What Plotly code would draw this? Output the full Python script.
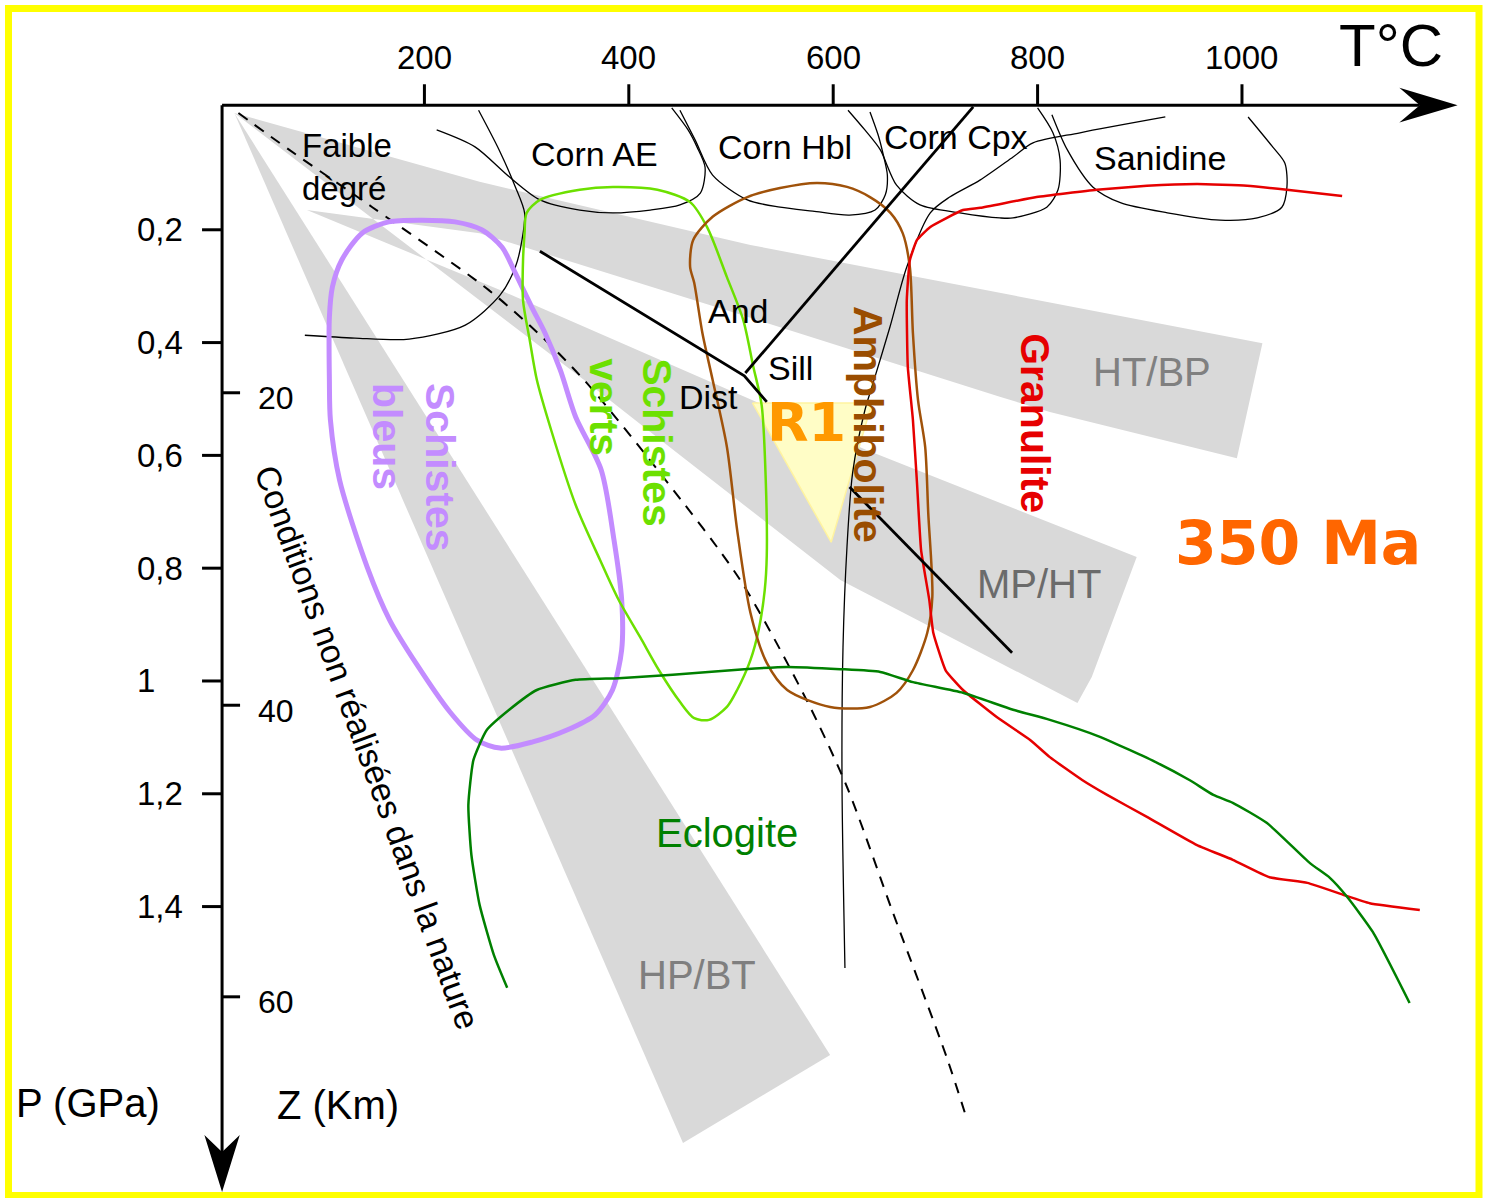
import plotly.graph_objects as go

# ---------------- data (T in °C, P in GPa) ----------------
T_TICKS = [200, 400, 600, 800, 1000]
T_TICK_LABELS = ["200", "400", "600", "800", "1000"]
P_TICKS = [0.2, 0.4, 0.6, 0.8, 1.0, 1.2, 1.4]
P_TICK_LABELS = ["0,2", "0,4", "0,6", "0,8", "1", "1,2", "1,4"]
Z_TICKS = ["20", "40", "60"]            # depth, km
Z_TICK_P = [0.489, 1.043, 1.560]        # pressure equivalent of each depth tick

# grey fields: HT/BP and MP/HT (joined near the origin), HP/BT
BAND_AB_T = [14, 254, 519, 763, 1020, 995, 812, 763, 519, 254, 85, 274, 632, 897, 853, 839, 607, 422, 356, 14]
BAND_AB_P = [-0.007, 0.115, 0.227, 0.312, 0.401, 0.605, 0.523, 0.496, 0.356, 0.206, 0.165,
             0.307, 0.590, 0.780, 0.993, 1.039, 0.821, 0.560, 0.466, -0.007]
BAND_C_T = [14, 453, 597, 14]
BAND_C_P = [-0.007, 1.819, 1.663, -0.007]

# R1 triangle
R1_T = [521, 638, 598, 521]
R1_P = [0.507, 0.507, 0.754, 0.507]

# geotherm limit (dashed)
GEO_T = [18, 67.5, 149, 263, 318, 359, 433.5, 509, 574, 613.5, 658.5, 711, 731]
GEO_P = [-0.007, 0.058, 0.160, 0.307, 0.395, 0.472, 0.638, 0.821, 1.034, 1.188, 1.411, 1.667, 1.778]

# thin black boundaries
FAIBLE_T = [253, 273, 289, 298, 295.5, 289, 274, 240, 185, 132, 83]
FAIBLE_P = [-0.012, 0.058, 0.124, 0.170, 0.218, 0.266, 0.316, 0.369, 0.394, 0.392, 0.387]
CORN_AE_T = [212, 249.5, 283, 313, 352, 384.5, 421, 450, 470, 474.6, 466.7, 458, 442]
CORN_AE_P = [0.023, 0.053, 0.106, 0.147, 0.165, 0.170, 0.165, 0.156, 0.135, 0.089, 0.053, 0.023, -0.016]
CORN_HBL_T = [450, 465, 482, 516, 548, 580, 616, 641, 651, 653, 649, 644, 636]
CORN_HBL_P = [-0.012, 0.041, 0.103, 0.147, 0.160, 0.167, 0.174, 0.165, 0.138, 0.103, 0.067, 0.032, -0.009]
CORN_CPX_T = [614.5, 631, 646, 662, 685, 724, 763, 776, 809, 820, 822, 815, 800]
CORN_CPX_P = [-0.012, 0.023, 0.058, 0.121, 0.156, 0.170, 0.179, 0.179, 0.160, 0.129, 0.076, 0.028, -0.016]
SANIDINE_T = [814, 829, 854, 881, 927, 978.5, 1015, 1039, 1044, 1042, 1030, 1006]
SANIDINE_P = [-0.004, 0.058, 0.124, 0.152, 0.170, 0.183, 0.179, 0.160, 0.124, 0.082, 0.053, 0.0]
LONG_T = [925, 841.5, 795.5, 776, 743.6, 714, 695, 672, 655.6, 639, 631, 619, 613.5, 609.6, 608.6, 611.5]
LONG_P = [0.0, 0.028, 0.046, 0.071, 0.112, 0.142, 0.170, 0.266, 0.372, 0.472, 0.520, 0.631, 0.762, 0.940, 1.176, 1.509]

# aluminosilicate triple point lines
KY_AND_T = [313, 513, 535]
KY_AND_P = [0.238, 0.459, 0.505]
AND_SIL_T = [514, 737]
AND_SIL_P = [0.454, -0.018]
KY_SIL_T = [616, 775]
KY_SIL_P = [0.656, 0.950]

# facies fields
BLEUS_T = [165, 198, 230, 256, 276, 289, 305, 318, 333, 348, 373, 385.5, 393, 393, 384, 367, 339.5, 306, 274,
           251.5, 225, 193, 166, 144, 117, 108, 107, 107, 110, 119, 139, 165]
BLEUS_P = [0.186, 0.183, 0.186, 0.200, 0.231, 0.277, 0.337, 0.383, 0.449, 0.532, 0.626, 0.750, 0.856, 0.945,
           1.016, 1.060, 1.087, 1.108, 1.119, 1.105, 1.055, 0.972, 0.892, 0.798, 0.644, 0.537, 0.466, 0.355,
           0.301, 0.254, 0.206, 0.186]
VERTS_T = [300, 313, 352, 384.5, 428, 460, 476.5, 496, 512, 521.5, 530, 534, 535, 533, 527, 519, 506, 496,
           478.5, 464, 450, 429.5, 411, 390, 372, 348, 324, 310, 303, 296.5, 296.5, 298, 300]
VERTS_P = [0.170, 0.147, 0.129, 0.124, 0.129, 0.151, 0.195, 0.284, 0.360, 0.440, 0.511, 0.644, 0.777, 0.839,
           0.910, 0.963, 1.016, 1.046, 1.069, 1.066, 1.037, 0.981, 0.922, 0.856, 0.786, 0.688, 0.555, 0.466,
           0.395, 0.325, 0.254, 0.206, 0.170]
AMPHI_T = [460, 463, 482, 516, 548, 584, 613.5, 636, 656, 668, 675, 678, 683, 690, 693, 697, 692, 678, 662,
           636, 597, 555, 535, 519, 506, 496, 482, 472, 464, 460]
AMPHI_P = [0.266, 0.218, 0.177, 0.142, 0.126, 0.117, 0.124, 0.142, 0.170, 0.206, 0.266, 0.383, 0.502, 0.585,
           0.702, 0.851, 0.915, 0.981, 1.021, 1.046, 1.046, 1.016, 0.968, 0.879, 0.732, 0.585, 0.466, 0.383,
           0.294, 0.266]
GRANU_T = [1098, 1044, 1005, 956, 907, 858, 799, 744, 727, 695, 682, 675, 672, 673, 678, 682, 686, 694, 698,
           710, 727, 760, 793, 812, 844, 868, 907, 956, 991, 1027, 1064, 1099, 1125, 1174]
GRANU_P = [0.140, 0.129, 0.122, 0.119, 0.122, 0.129, 0.142, 0.161, 0.165, 0.195, 0.218, 0.254, 0.325, 0.443,
           0.537, 0.649, 0.768, 0.856, 0.915, 0.981, 1.016, 1.064, 1.105, 1.135, 1.176, 1.202, 1.241, 1.291,
           1.317, 1.348, 1.358, 1.379, 1.394, 1.406]
ECLO_T = [281, 268, 254, 246, 243, 248, 261, 283, 310, 348, 390, 443, 513, 555, 607, 646, 678, 727, 776,
          812, 861, 917, 949, 972, 991, 1024.5, 1066.5, 1086, 1103, 1128, 1164]
ECLO_P = [1.544, 1.486, 1.397, 1.309, 1.220, 1.140, 1.087, 1.051, 1.016, 0.998, 0.995, 0.989, 0.979, 0.975,
          0.979, 0.984, 1.002, 1.021, 1.051, 1.069, 1.099, 1.145, 1.176, 1.202, 1.216, 1.252, 1.323, 1.349,
          1.383, 1.445, 1.571]

# ---------------- styling ----------------
FONT = "Arial, Liberation Sans, sans-serif"
COMIC = "Comic Sans MS, DejaVu Sans, sans-serif"
GREY = "#D9D9D9"
PURPLE = "#C38CFF"
LIME = "#6CE000"
BROWN = "#A0520A"
RED = "#E60000"
DKGREEN = "#008000"

AX_P = -0.021   # P position of the temperature axis
AX_T = 2.0      # T position of the pressure axis

fig = go.Figure()


def poly(t, p, fill, line_color=None, lw=0):
    fig.add_trace(go.Scatter(x=t, y=p, mode="lines", fill="toself", fillcolor=fill,
                             line=dict(color=line_color or fill, width=lw), hoverinfo="skip"))


def curve(t, p, color, width, shape="spline", dash="solid", smoothing=0.8):
    line = dict(color=color, width=width, dash=dash, shape=shape)
    if shape == "spline":
        line["smoothing"] = smoothing
    fig.add_trace(go.Scatter(x=t, y=p, mode="lines", line=line, hoverinfo="skip"))


poly(BAND_AB_T, BAND_AB_P, GREY)
poly(BAND_C_T, BAND_C_P, GREY)
poly(R1_T, R1_P, "#FFFDC6", "#FFF3A0", 1.5)

curve(GEO_T, GEO_P, "black", 2, dash="11px,9px")
for t, p in [(FAIBLE_T, FAIBLE_P), (CORN_AE_T, CORN_AE_P), (CORN_HBL_T, CORN_HBL_P),
             (CORN_CPX_T, CORN_CPX_P), (SANIDINE_T, SANIDINE_P), (LONG_T, LONG_P)]:
    curve(t, p, "black", 1.3)

curve(BLEUS_T, BLEUS_P, PURPLE, 5)
curve(VERTS_T, VERTS_P, LIME, 2.5)
curve(AMPHI_T, AMPHI_P, BROWN, 2.5)
curve(GRANU_T, GRANU_P, RED, 2.5, smoothing=0.4)
curve(ECLO_T, ECLO_P, DKGREEN, 2.5, smoothing=0.5)

for t, p in [(KY_AND_T, KY_AND_P), (AND_SIL_T, AND_SIL_P), (KY_SIL_T, KY_SIL_P)]:
    curve(t, p, "black", 2.8, shape="linear")

# ---- axes ----
T_END = 1211.0
P_END = 1.906
HEAD_T = 57.0      # arrow head length along T
HEAD_HALF_P = 0.031
HEAD_P = 0.101     # arrow head length along P
HEAD_HALF_T = 17.3

fig.add_trace(go.Scatter(x=[AX_T, T_END - HEAD_T + 20], y=[AX_P, AX_P], mode="lines",
                         line=dict(color="black", width=3), hoverinfo="skip"))
fig.add_trace(go.Scatter(x=[AX_T, AX_T], y=[AX_P, P_END - HEAD_P + 0.03], mode="lines",
                         line=dict(color="black", width=3), hoverinfo="skip"))
poly([T_END - HEAD_T, T_END, T_END - HEAD_T, T_END - HEAD_T + 20, T_END - HEAD_T],
     [AX_P - HEAD_HALF_P, AX_P, AX_P + HEAD_HALF_P, AX_P, AX_P - HEAD_HALF_P], "black")
poly([AX_T - HEAD_HALF_T, AX_T, AX_T + HEAD_HALF_T, AX_T, AX_T - HEAD_HALF_T],
     [P_END - HEAD_P, P_END, P_END - HEAD_P, P_END - HEAD_P + 0.03, P_END - HEAD_P], "black")

tx, ty = [], []
for t in T_TICKS:
    tx += [t, t, None]
    ty += [AX_P, AX_P - 0.037, None]
for p in P_TICKS:
    tx += [AX_T - 19.6, AX_T, None]
    ty += [p, p, None]
for p in Z_TICK_P:
    tx += [AX_T, AX_T + 17.6, None]
    ty += [p, p, None]
fig.add_trace(go.Scatter(x=tx, y=ty, mode="lines", line=dict(color="black", width=3), hoverinfo="skip"))

ann = []


def text(t, p, s, size, color="black", angle=0, bold=False, xanchor="center", family=FONT, align="center"):
    ann.append(dict(x=t, y=p, xref="x", yref="y", text=s, showarrow=False, textangle=angle,
                    xanchor=xanchor, yanchor="middle", align=align,
                    font=dict(family=family, size=size, color=color, weight="bold" if bold else "normal")))


for t, s in zip(T_TICKS, T_TICK_LABELS):
    text(t, -0.106, s, 33)
for p, s in zip(P_TICKS, P_TICK_LABELS):
    text(-83, p, s, 33, xanchor="left")
for p, s in zip(Z_TICK_P, Z_TICKS):
    text(35, p + 0.010, s, 32, xanchor="left")

text(1146, -0.126, "T°C", 60)
text(-129, 1.748, "P (GPa)", 40)
text(115.5, 1.752, "Z (Km)", 40)

text(78.3, 0.089, "Faible<br>dègré", 33, xanchor="left", align="left")
text(366, 0.066, "Corn AE", 34)
text(553, 0.053, "Corn Hbl", 34)
text(720, 0.035, "Corn Cpx", 34)
text(920, 0.073, "Sanidine", 34)
text(507, 0.344, "And", 34)
text(558, 0.445, "Sill", 34)
text(477.5, 0.496, "Dist", 34)

text(912, 0.452, "HT/BP", 40, color="#808080")
text(801, 0.828, "MP/HT", 40, color="#6B6B6B")
text(467, 1.521, "HP/BT", 40, color="#7F7F7F")
text(496, 1.270, "Eclogite", 40, color=DKGREEN)

text(190, 0.621, "Schistes<br>bleus", 41, color=PURPLE, angle=90, bold=True, align="left")
text(401, 0.578, "Schistes<br>verts", 41, color=LIME, angle=90, bold=True, align="left")
text(634, 0.546, "Amphibolite", 41, color="#9A4D00", angle=90, bold=True)
text(797.5, 0.543, "Granulite", 41, color=RED, angle=90, bold=True)
text(144, 1.117, "Conditions non réalisées dans la nature", 34, angle=70)

text(574, 0.541, "R1", 54, color="#FF9900", bold=True, family=COMIC)
text(1055, 0.755, "350 Ma", 60, color="#FF6600", bold=True, family=COMIC)

fig.update_layout(
    width=1485, height=1198,
    margin=dict(l=0, r=0, t=0, b=0),
    paper_bgcolor="white", plot_bgcolor="white",
    showlegend=False,
    xaxis=dict(range=[-215.3, 1237.8], visible=False, fixedrange=True),
    yaxis=dict(range=[1.9167, -0.2074], visible=False, fixedrange=True),
    annotations=ann,
    shapes=[dict(type="rect", xref="paper", yref="paper", x0=8.5 / 1485, x1=1479 / 1485,
                 y0=1 - 1195.5 / 1198, y1=1 - 8.5 / 1198, line=dict(color="#FFFF00", width=7))],
)

fig.write_html("out.html", config={"displayModeBar": False},
               post_script="document.body.style.margin='0';document.body.style.overflow='hidden';")
